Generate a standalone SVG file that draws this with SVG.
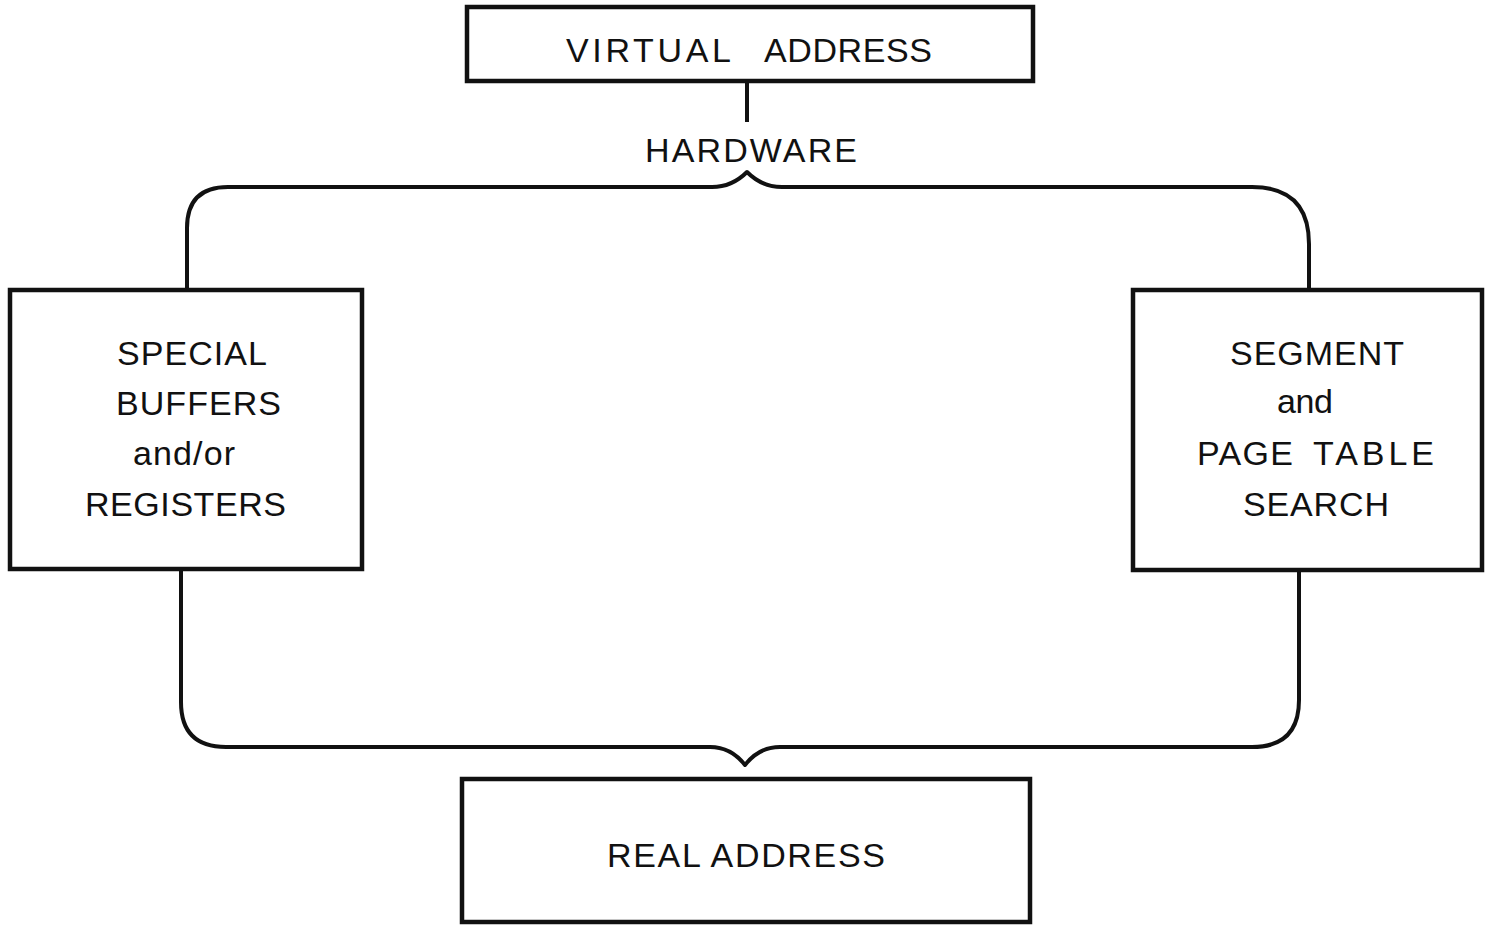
<svg xmlns="http://www.w3.org/2000/svg" width="1493" height="925" viewBox="0 0 1493 925">
<style>
.box{fill:#fff;stroke:#111;stroke-width:4.5}
.ln{fill:none;stroke:#111;stroke-width:4;stroke-linejoin:round}
text{font-family:"Liberation Sans",Arial,sans-serif;font-size:34px;fill:#111}
</style>
<rect width="1493" height="925" fill="#fff"/>
<g id="connectors">
<path class="ln" d="M747,81 V122"/>
<path class="ln" d="M187,290 V228 Q187,187 228,187 H712 C730,187 740,179 747,172 C754,179 764,187 782,187 H1252 Q1309,187 1309,244 V290"/>
<path class="ln" d="M181,570 V702 Q181,747 226,747 H710 C728,747 738,756 745,765 C752,756 762,747 780,747 H1252 Q1299,747 1299,700 V571"/>
</g>
<g id="virtual">
<rect class="box" x="467" y="7" width="566" height="74"/>
<text x="566" y="62" textLength="165" lengthAdjust="spacing">VIRTUAL</text>
<text x="764" y="62" textLength="168" lengthAdjust="spacing">ADDRESS</text>
</g>
<g id="hardware">
<text x="645" y="162" textLength="212" lengthAdjust="spacing">HARDWARE</text>
</g>
<g id="special">
<rect class="box" x="10" y="290" width="352" height="279"/>
<text x="117" y="365" textLength="150" lengthAdjust="spacing">SPECIAL</text>
<text x="116" y="415" textLength="165" lengthAdjust="spacing">BUFFERS</text>
<text x="133" y="465" textLength="102" lengthAdjust="spacing">and/or</text>
<text x="85" y="516" textLength="201" lengthAdjust="spacing">REGISTERS</text>
</g>
<g id="segment">
<rect class="box" x="1133" y="290" width="349" height="280"/>
<text x="1230" y="365" textLength="174" lengthAdjust="spacing">SEGMENT</text>
<text x="1277" y="413" textLength="56" lengthAdjust="spacing">and</text>
<text x="1197" y="465" textLength="96" lengthAdjust="spacing">PAGE</text>
<text x="1313" y="465" textLength="121" lengthAdjust="spacing">TABLE</text>
<text x="1243" y="516" textLength="146" lengthAdjust="spacing">SEARCH</text>
</g>
<g id="real">
<rect class="box" x="462" y="779" width="568" height="143"/>
<text x="607" y="867" textLength="278" lengthAdjust="spacing">REAL ADDRESS</text>
</g>
</svg>
